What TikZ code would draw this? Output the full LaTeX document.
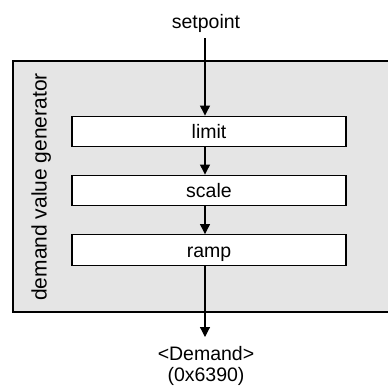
\documentclass[tikz,border=0pt]{standalone}
\usepackage{fontspec}
\setmainfont{Liberation Sans}
\usetikzlibrary{arrows.meta}
\begin{document}
\begin{tikzpicture}[x=1pt,y=-1pt,
  lbl/.style={font=\fontsize{19.5}{20.5}\selectfont, inner sep=0pt},
  stage/.style={draw=black, line width=1.4pt, fill=white, minimum width=274pt, minimum height=30.5pt,
    inner sep=0pt, font=\fontsize{19.5}{20}\selectfont, text height=14pt, text depth=0pt},
  flow/.style={line width=1.2pt, -{Triangle[length=10pt,width=10pt]}}]
\useasboundingbox (0,0) rectangle (388,389);
% outer group box
\begin{scope}
\clip (0,0) rectangle (388,389);
\fill[gray!20] (13,61) rectangle (395,312);
\draw[line width=1.2pt] (395,61) -- (13,61) -- (13,312) -- (395,312);
\end{scope}
\node[lbl, font=\fontsize{21}{22}\selectfont, rotate=90, anchor=base] (grp) at (46.5,187) {demand value generator};
% nodes
\node[lbl, anchor=base] (setpoint) at (206,28) {setpoint};
\coordinate (top) at (205,38);
\node[stage] (limit) at (209,131.5) {limit};
\node[stage] (scale) at (209,190.5) {scale};
\node[stage] (ramp) at (209,250) {ramp};
\node[lbl, anchor=base, align=center] (demand) at (206,381) {<Demand>\\(0x6390)};
\coordinate (bot) at (205,337);
% connectors
\draw[flow] (top) -- (limit.north -| top);
\draw[flow] (limit.south -| top) -- (scale.north -| top);
\draw[flow] (scale.south -| top) -- (ramp.north -| top);
\draw[flow] (ramp.south -| top) -- (bot);
\end{tikzpicture}
\end{document}
